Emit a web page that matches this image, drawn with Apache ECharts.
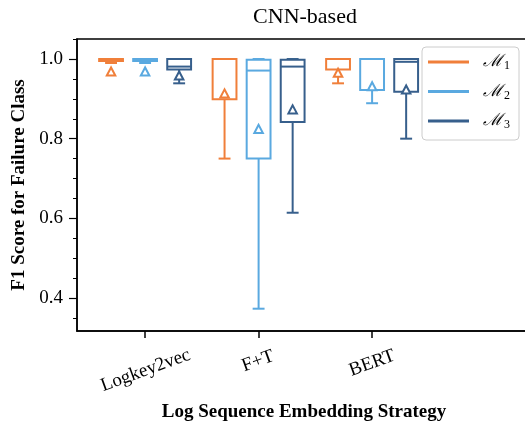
<!DOCTYPE html>
<html>
<head>
<meta charset="utf-8">
<script src="https://cdn.jsdelivr.net/npm/echarts@6/dist/echarts.min.js"></script>
<style>html,body{margin:0;padding:0;background:#fff}#c{width:525px;height:423px}</style>
</head>
<body>
<div id="c"></div>
<script>
// ---- data ----
const categories = ['Logkey2vec', 'F+T', 'BERT'];
const seriesNames = ['M1', 'M2', 'M3'];
// each entry: [min(lower whisker), q1, median, q3, max(upper whisker), mean]
const m1Stats = [
  [0.990, 0.995, 1.000, 1.000, 1.000, 0.967],
  [0.750, 0.899, 1.000, 1.000, 1.000, 0.912],
  [0.939, 0.974, 1.000, 1.000, 1.000, 0.964]
];
const m2Stats = [
  [0.990, 0.995, 1.000, 1.000, 1.000, 0.967],
  [0.373, 0.750, 0.971, 0.998, 1.000, 0.823],
  [0.889, 0.922, 1.000, 1.000, 1.000, 0.930]
];
const m3Stats = [
  [0.939, 0.974, 0.981, 1.000, 1.000, 0.957],
  [0.614, 0.842, 0.981, 0.998, 1.000, 0.872],
  [0.800, 0.918, 0.993, 1.000, 1.000, 0.922]
];
const yMajorTicks = [0.4, 0.6, 0.8, 1.0];
const yMinorTicks = [0.35, 0.45, 0.5, 0.55, 0.65, 0.7, 0.75, 0.85, 0.9, 0.95, 1.05];
const colors = ['#f07f3a', '#5aa9e0', '#375f8c'];

// ---- layout constants ----
const OFFSETS = [-0.3, 0, 0.3];
const BOX_W = 0.21;
const FONT = '"Liberation Serif", "DejaVu Serif", serif';
const FS = 19;

const allStats = [m1Stats, m2Stats, m3Stats];

function renderBox(params, api) {
  const x = api.value(0);
  const mn = api.value(1), q1 = api.value(2), md = api.value(3),
        q3 = api.value(4), mx = api.value(5), mean = api.value(6);
  const color = api.visual('color');
  const hw = BOX_W / 2;
  const tl = api.coord([x - hw, q3]);
  const br = api.coord([x + hw, q1]);
  const cx = api.coord([x, 0.5])[0];
  const capHalf = (br[0] - tl[0]) / 4;
  const yMin = api.coord([x, mn])[1];
  const yMax = api.coord([x, mx])[1];
  const yMed = api.coord([x, md])[1];
  const yMean = api.coord([x, mean])[1];
  const st = { stroke: color, lineWidth: 2, fill: null };
  const s = 8.5;
  return {
    type: 'group',
    children: [
      { type: 'line', shape: { x1: cx, y1: br[1], x2: cx, y2: yMin }, style: st },
      { type: 'line', shape: { x1: cx, y1: tl[1], x2: cx, y2: yMax }, style: st },
      { type: 'line', shape: { x1: cx - capHalf, y1: yMin, x2: cx + capHalf, y2: yMin }, style: st },
      { type: 'line', shape: { x1: cx - capHalf, y1: yMax, x2: cx + capHalf, y2: yMax }, style: st },
      { type: 'rect', shape: { x: tl[0], y: tl[1], width: br[0] - tl[0], height: br[1] - tl[1] }, style: { stroke: color, lineWidth: 2, fill: '#fff' } },
      { type: 'line', shape: { x1: tl[0], y1: yMed, x2: br[0], y2: yMed }, style: st },
      { type: 'polygon', shape: { points: [[cx, yMean - s * 0.55], [cx - s / 2, yMean + s * 0.4], [cx + s / 2, yMean + s * 0.4]] },
        style: { stroke: color, lineWidth: 2, fill: '#fff' } }
    ]
  };
}

const series = seriesNames.map((name, k) => ({
  name: name,
  type: 'custom',
  renderItem: renderBox,
  itemStyle: { color: colors[k] },
  encode: { x: 0, y: [1, 2, 3, 4, 5, 6] },
  data: allStats[k].map((row, i) => [i + OFFSETS[k]].concat(row)),
  z: 3
}));

const chart = echarts.init(document.getElementById('c'), null, { renderer: 'canvas' });

chart.setOption({
  animation: false,
  color: colors,
  title: {
    text: 'CNN-based',
    left: 300, top: 1, textAlign: 'center',
    textStyle: { fontFamily: FONT, fontWeight: 'normal', fontSize: 22, color: '#000' }
  },
  grid: { left: 77, right: -6, top: 39, bottom: 92, show: true, borderColor: '#000', borderWidth: 1.5,
          containLabel: false, outerBoundsMode: 'none' },
  legend: {
    orient: 'vertical',
    left: 422, top: 47,
    padding: [5, 9, 9, 6],
    itemWidth: 41, itemHeight: 3, itemGap: 9.5,
    borderColor: '#cccccc', borderWidth: 1, borderRadius: 4,
    backgroundColor: 'rgba(255,255,255,0.8)',
    data: seriesNames.map(n => ({ name: n, icon: 'rect' })),
    formatter: function (n) { return '{m|ℳ}{s|' + n.slice(1) + '}'; },
    textStyle: {
      color: '#000',
      rich: {
        m: { fontFamily: '"DejaVu Serif", serif', fontStyle: 'italic', fontSize: 17, lineHeight: 20, padding: [0, 0, 0, 9] },
        s: { fontFamily: FONT, fontSize: 12, lineHeight: 20, padding: [8, 0, 0, 1] }
      }
    }
  },
  xAxis: {
    type: 'value', min: -0.6, max: 3.4,
    name: 'Log Sequence Embedding Strategy',
    nameLocation: 'middle', nameGap: 72,
    nameTextStyle: { fontFamily: FONT, fontWeight: 'bold', fontSize: FS, color: '#000' },
    splitLine: { show: false },
    axisLine: { show: true, onZero: false, lineStyle: { color: '#000', width: 1.5 } },
    axisTick: { show: true, customValues: [0, 1, 2], length: 7, lineStyle: { color: '#000', width: 1.5 } },
    axisLabel: {
      customValues: [0, 1, 2],
      rotate: 20, align: 'center', verticalAlign: 'middle', margin: 29,
      fontFamily: FONT, fontSize: FS, color: '#000',
      formatter: function (v) {
        const c = categories[Math.round(v)];
        return '{a' + Math.round(v) + '|' + c + '}';
      },
      rich: {
        a0: { fontFamily: FONT, fontSize: FS, color: '#000', padding: [20, 6, 0, 0] },
        a1: { fontFamily: FONT, fontSize: FS, color: '#000', padding: [2, 2, 0, 0] },
        a2: { fontFamily: FONT, fontSize: FS, color: '#000', padding: [6, 2, 0, 0] }
      }
    }
  },
  yAxis: [{
    type: 'value', min: 0.317, max: 1.0503,
    name: 'F1 Score for Failure Class',
    nameLocation: 'middle', nameGap: 47, nameRotate: 90,
    nameTextStyle: { fontFamily: FONT, fontWeight: 'bold', fontSize: FS, color: '#000' },
    splitLine: { show: false },
    axisLine: { show: true, onZero: false, lineStyle: { color: '#000', width: 1.5 } },
    axisTick: { show: true, customValues: yMajorTicks, length: 8, lineStyle: { color: '#000', width: 1.2 } },
    axisLabel: {
      customValues: yMajorTicks, margin: 14,
      fontFamily: FONT, fontSize: FS, color: '#000',
      formatter: v => v.toFixed(1)
    }
  }, {
    type: 'value', min: 0.317, max: 1.0503, position: 'left',
    splitLine: { show: false },
    axisLine: { show: false, onZero: false },
    axisTick: { show: true, customValues: yMinorTicks, length: 4, lineStyle: { color: '#000', width: 1 } },
    axisLabel: { show: false, customValues: yMinorTicks }
  }],
  series: series
});
</script>
</body>
</html>
